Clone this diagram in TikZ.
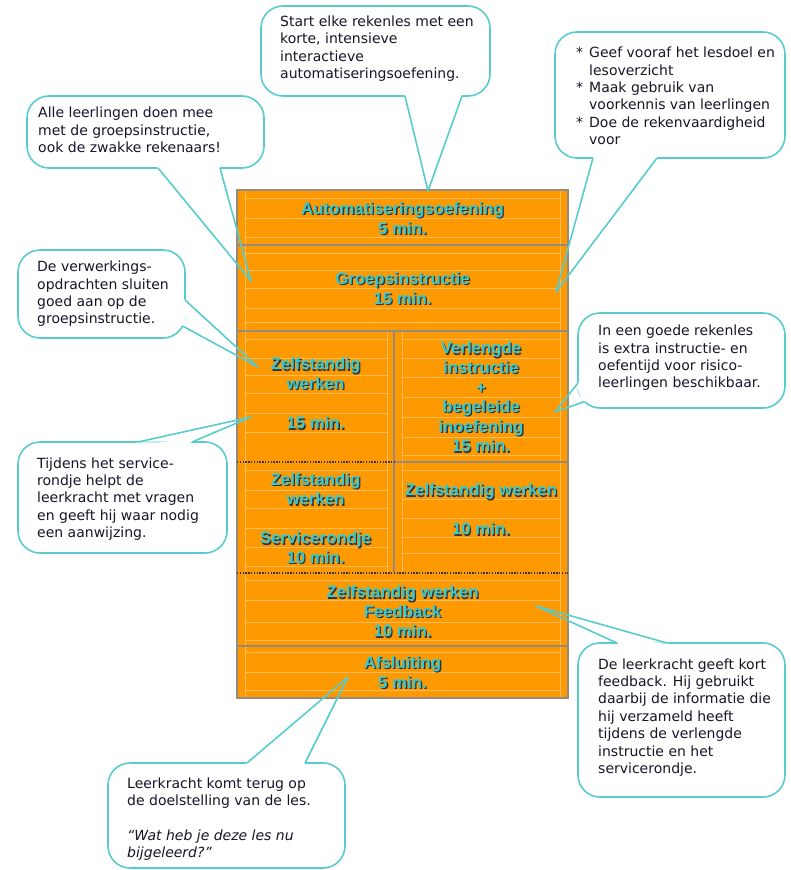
\documentclass[tikz,border=0pt]{standalone}
\usepackage{fontspec}
\usetikzlibrary{calc}
\newfontfamily\callfont{DejaVu Sans}
\newfontfamily\blockfont{Liberation Sans}
\definecolor{orangec}{RGB}{255,153,0}
\definecolor{gridlight}{RGB}{255,188,95}
\definecolor{gridgrey}{RGB}{150,138,125}
\definecolor{tealtext}{RGB}{58,200,200}
\definecolor{shadowc}{RGB}{50,50,60}
\definecolor{calloutc}{RGB}{88,204,204}
\definecolor{calltext}{RGB}{22,22,40}
\newcommand\sh[1]{\makebox[0pt][l]{\kern1.3pt\raisebox{-1.3pt}{\textcolor{shadowc}{#1}}}#1}
\newcommand\wedgeptr[3]{%
  \fill[white] ($(#1)!-2.5pt!(#3)$) -- ($(#1)!2.5pt!(#3)$) -- ($(#2)!2.5pt!(#3)$) -- ($(#2)!-2.5pt!(#3)$) -- cycle;
  \draw[wedge] (#1) -- (#3) -- (#2);}
\begin{document}
\begin{tikzpicture}[x=1pt,y=-1pt,
  cell/.style={fill=orangec, draw=none, inner sep=0pt, outer sep=0pt, anchor=north west, rectangle},
  btext/.style={inner sep=0pt, text=tealtext, align=center, font=\blockfont\bfseries\fontsize{16.8}{19.6}\selectfont},
  cbox/.style={draw=calloutc, line width=1.6pt, fill=white, rounded corners=22pt, inner sep=0pt, outer sep=0pt, anchor=north west, rectangle},
  ctext/.style={inner sep=0pt, anchor=west, align=left, text=calltext, font=\callfont\fontsize{14}{17.4}\selectfont},
  wedge/.style={draw=calloutc, line width=1.6pt, line join=round},
  sepline/.style={draw=gridgrey, line width=1.3pt},
  dotsep/.style={draw=shadowc, line width=1.3pt, dash pattern=on 1.4pt off 1.4pt},
  gridln/.style={draw=gridlight, line width=0.6pt}]
\useasboundingbox (0,0) rectangle (790,870);

% ---------- block cells ----------
\node[cell, minimum width=331pt, minimum height=55pt]  (r1)  at (237,190) {};
\node[cell, minimum width=331pt, minimum height=86pt]  (r2)  at (237,245) {};
\node[cell, minimum width=157pt, minimum height=131pt] (r3l) at (237,331) {};
\node[cell, minimum width=174pt, minimum height=131pt] (r3r) at (394,331) {};
\node[cell, minimum width=157pt, minimum height=111pt] (r4l) at (237,462) {};
\node[cell, minimum width=174pt, minimum height=111pt] (r4r) at (394,462) {};
\node[cell, minimum width=331pt, minimum height=73pt]  (r5)  at (237,573) {};
\node[cell, minimum width=331pt, minimum height=52pt]  (r6)  at (237,646) {};

% ---------- faint inner grid ----------
\foreach \y in {198,218,237,253,270,288,308,322,580,600,622,640,652,672,690}
  \draw[gridln] (245,\y) -- (560,\y);
\foreach \y in {339,358,375,393,413,432}
  \draw[gridln] (245,\y) -- (387,\y);
\foreach \y in {339,358,377,397,417,437,455}
  \draw[gridln] (402,\y) -- (560,\y);
\foreach \y in {470,490,508,528,547,566}
  \draw[gridln] (245,\y) -- (387,\y);
\foreach \y in {470,499,518,537,553}
  \draw[gridln] (402,\y) -- (560,\y);
\draw[gridln] (245,190) -- (245,331) (560,190) -- (560,331);
\draw[gridln] (245,331) -- (245,573) (387,331) -- (387,573);
\draw[gridln] (402,331) -- (402,573) (560,331) -- (560,573);
\draw[gridln] (245,573) -- (245,698) (560,573) -- (560,698);

% ---------- separators ----------
\draw[sepline] (r1.north west) rectangle (r6.south east);
\draw[sepline] (r1.south west) -- (r1.south east);
\draw[sepline] (r2.south west) -- (r2.south east);
\draw[sepline] (r3r.north west) -- (r4r.south west);
\draw[sepline] (r3r.south west) -- (r3r.south east);
\draw[sepline] (r5.south west) -- (r5.south east);
\draw[dotsep] (r3l.south west) -- (r3l.south east);
\draw[dotsep] (r4l.south west) -- (r4r.south east);

% ---------- block texts ----------
\node[btext] (r1t)  at (402.5,219) {\sh{Automatiseringsoefening}\\\sh{5 min.}};
\node[btext] (r2t)  at (402.5,289) {\sh{Groepsinstructie}\\\sh{15 min.}};
\node[btext] (r3lt) at (315.5,394) {\sh{Zelfstandig}\\\sh{werken}\\[19.6pt]\sh{15 min.}};
\node[btext] (r3rt) at (481,397.5) {\sh{Verlengde}\\\sh{instructie}\\\sh{+}\\\sh{begeleide}\\\sh{inoefening}\\\sh{15 min.}};
\node[btext] (r4lt) at (315.5,519) {\sh{Zelfstandig}\\\sh{werken}\\[19.6pt]\sh{Servicerondje}\\\sh{10 min.}};
\node[btext] (r4rt) at (481,510) {\sh{Zelfstandig werken}\\[19.6pt]\sh{10 min.}};
\node[btext] (r5t)  at (402.5,612) {\sh{Zelfstandig werken}\\\sh{Feedback}\\\sh{10 min.}};
\node[btext] (r6t)  at (402.5,673) {\sh{Afsluiting}\\\sh{5 min.}};

% ---------- callout boxes ----------
\node[cbox, minimum width=229pt, minimum height=90pt]  (c1) at (261,6) {};
\node[cbox, minimum width=230pt, minimum height=126pt] (c2) at (555,32) {};
\node[cbox, minimum width=237pt, minimum height=72pt]  (c3) at (27,96) {};
\node[cbox, minimum width=167pt, minimum height=88pt]  (c4) at (18,250) {};
\node[cbox, minimum width=209pt, minimum height=111pt] (c5) at (18,442) {};
\node[cbox, minimum width=207pt, minimum height=95pt]  (c6) at (578,313) {};
\node[cbox, minimum width=207pt, minimum height=154pt] (c7) at (578,643) {};
\node[cbox, minimum width=237pt, minimum height=105pt] (c8) at (108,763) {};

% ---------- callout texts ----------
\node[ctext] (c1t) at (280,48.5) {Start elke rekenles met een\\korte, intensieve\\interactieve\\automatiseringsoefening.};
\node[ctext] (c2t) at (576,96) {\makebox[13pt][l]{*}Geef vooraf het lesdoel en\\\hspace*{13pt}lesoverzicht\\\makebox[13pt][l]{*}Maak gebruik van\\\hspace*{13pt}voorkennis van leerlingen\\\makebox[13pt][l]{*}Doe de rekenvaardigheid\\\hspace*{13pt}voor};
\node[ctext] (c3t) at (38,130) {Alle leerlingen doen mee\\met de groepsinstructie,\\ook de zwakke rekenaars!};
\node[ctext] (c4t) at (37,294) {De verwerkings-\\opdrachten sluiten\\goed aan op de\\groepsinstructie.};
\node[ctext] (c5t) at (37,499) {Tijdens het service-\\rondje helpt de\\leerkracht met vragen\\en geeft hij waar nodig\\een aanwijzing.};
\node[ctext] (c6t) at (598,358) {In een goede rekenles\\is extra instructie- en\\oefentijd voor risico-\\leerlingen beschikbaar.};
\node[ctext] (c7t) at (598,717.5) {De leerkracht geeft kort\\feedback. Hij gebruikt\\daarbij de informatie die\\hij verzameld heeft\\tijdens de verlengde\\instructie en het\\servicerondje.};
\node[ctext] (c8t) at (127,819) {Leerkracht komt terug op\\de doelstelling van de les.\\[17.4pt]\itshape “Wat heb je deze les nu\\\itshape bijgeleerd?”};

% ---------- pointer tips ----------
\coordinate (t1) at (428,191);
\coordinate (t2) at (556,292);
\coordinate (t3) at (251,281);
\coordinate (t4) at (258,367);
\coordinate (t5) at (251,417);
\coordinate (t6) at (555,412);
\coordinate (t7) at (536,606);
\coordinate (t8) at (348,677);

% ---------- pointer bases ----------
\coordinate (b1a) at ($(c1.south west)+(144,0)$);
\coordinate (b1b) at ($(c1.south west)+(201,0)$);
\coordinate (b2a) at ($(c2.south west)+(38,0)$);
\coordinate (b2b) at ($(c2.south west)+(102,0)$);
\coordinate (b3a) at ($(c3.south west)+(131,0)$);
\coordinate (b3b) at ($(c3.south west)+(193,0)$);
\coordinate (b4a) at ($(c4.south east)+(0,-38)$);
\coordinate (b4b) at ($(c4.south east)+(-2.4,-12)$);
\coordinate (b5a) at ($(c5.north west)+(120,0)$);
\coordinate (b5b) at ($(c5.north west)+(174,0)$);
\coordinate (b6a) at ($(c6.south west)+(0,-25)$);
\coordinate (b6b) at ($(c6.south west)+(6.4,-6.4)$);
\coordinate (b7a) at ($(c7.north west)+(39,0)$);
\coordinate (b7b) at ($(c7.north west)+(89,0)$);
\coordinate (b8a) at ($(c8.north west)+(139,0)$);
\coordinate (b8b) at ($(c8.north west)+(197,0)$);

\wedgeptr{b1a}{b1b}{t1}
\wedgeptr{b2a}{b2b}{t2}
\wedgeptr{b3a}{b3b}{t3}
\wedgeptr{b4a}{b4b}{t4}
\wedgeptr{b5a}{b5b}{t5}
\wedgeptr{b6a}{b6b}{t6}
\wedgeptr{b7a}{b7b}{t7}
\wedgeptr{b8a}{b8b}{t8}
\end{tikzpicture}
\end{document}
